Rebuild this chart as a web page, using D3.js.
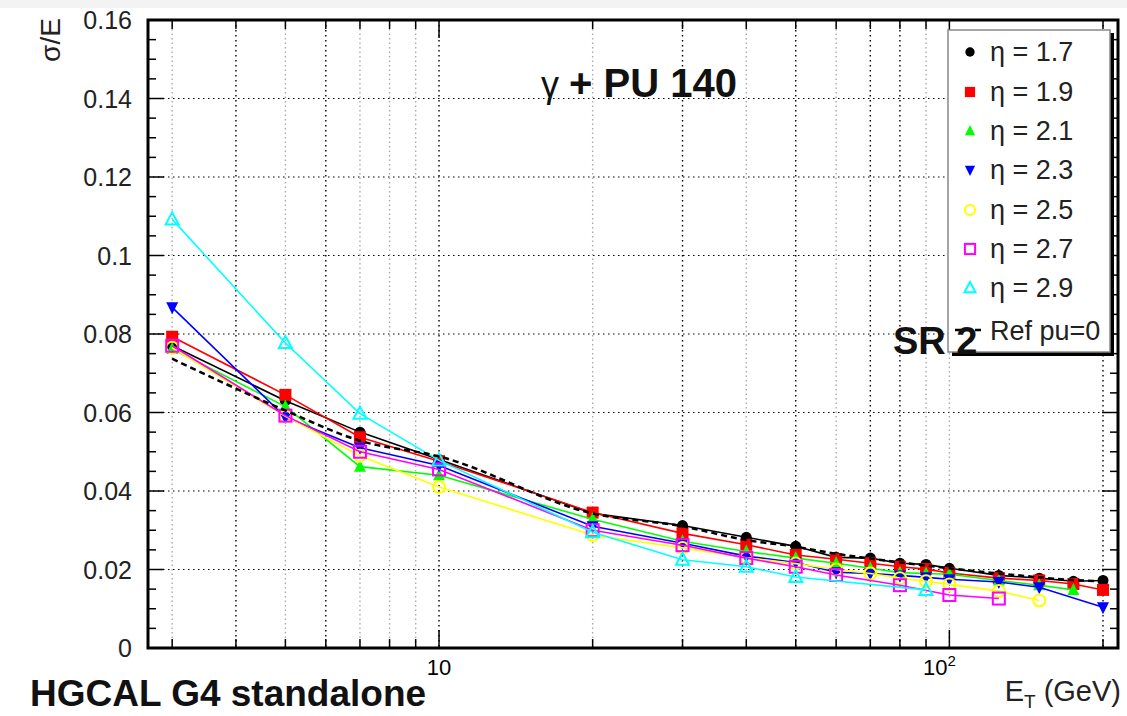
<!DOCTYPE html>
<html><head><meta charset="utf-8">
<script src="https://cdn.jsdelivr.net/npm/d3@7"></script>
<style>body{margin:0;background:#fff}svg{display:block}text{font-family:"Liberation Sans",Arial,sans-serif}</style>
</head><body>
<svg id="c" width="1127" height="716"></svg>
<script>
// ---- data ----
const xVals = [3,5,7,10,20,30,40,50,60,70,80,90,100,125,150,175,200];
const eta17 = [0.0770,0.0630,0.0550,0.0480,0.0343,0.0312,0.0282,0.0259,0.0231,0.0229,0.0216,0.0213,0.0203,0.0185,0.0178,0.0170,0.0172];
const eta19 = [0.0793,0.0645,0.0537,0.0476,0.0345,0.0292,0.0263,0.0237,0.0226,0.0216,0.0207,0.0201,0.0191,0.0178,0.0172,0.0163,0.0148];
const eta21 = [0.0762,0.0615,0.0462,0.0440,0.0328,0.0272,0.0246,0.0229,0.0216,0.0203,0.0192,0.0190,0.0188,0.0172,0.0160,0.0148,null];
const eta23 = [0.0868,0.0588,0.0510,0.0465,0.0310,0.0267,0.0234,0.0218,0.0193,0.0190,0.0185,0.0180,0.0175,0.0168,0.0155,null,0.0104];
const eta25 = [0.0765,0.0590,0.0490,0.0410,0.0288,0.0255,0.0230,0.0215,0.0200,0.0190,0.0178,0.0170,0.0162,0.0145,0.0121,null,null];
const eta27 = [0.0770,0.0592,0.0500,0.0455,0.0300,0.0262,0.0229,0.0207,0.0186,null,0.0160,null,0.0135,0.0126,null,null,null];
const eta29 = [0.1092,0.0777,0.0597,0.0478,0.0295,0.0225,0.0207,0.0181,null,null,null,0.0148,null,null,null,null,null];
const refPu0 = [0.0737,0.0605,0.0528,0.0488,0.0343,0.0310,0.0275,0.0258,0.0240,0.0228,0.0218,0.0210,0.0203,0.0190,0.0180,0.0173,0.0170];
const seriesNames = ["η = 1.7","η = 1.9","η = 2.1","η = 2.3","η = 2.5","η = 2.7","η = 2.9"];
const seriesVals = [eta17,eta19,eta21,eta23,eta25,eta27,eta29];
const seriesColors = ["#000000","#ff0000","#00ff00","#0000ff","#ffff00","#ff00ff","#00ffff"];
const seriesMarkers = ["circleF","squareF","triUpF","triDownF","circleO","squareO","triUpO"];
const refName = "Ref pu=0";
const yTicks = [0,0.02,0.04,0.06,0.08,0.1,0.12,0.14,0.16];
const yTickLabels = ["0","0.02","0.04","0.06","0.08","0.1","0.12","0.14","0.16"];
const xGridDark = [4,6,10,30,50,70,80,200];
const xGridLight = [3,5,7,8,9,20,40,60,90,100];
const xMinorTicks = [3,4,5,6,7,8,9,20,30,40,50,60,70,80,90,200];
const xMajorTicks = [10,100];

// ---- layout ----
const svg = d3.select("#c");
const L=148, R=1118, T=20, B=648;
const x = d3.scaleLog().domain([2.69,214]).range([L,R]);
const y = d3.scaleLinear().domain([0,0.16]).range([B,T]);

svg.append("rect").attr("x",0).attr("y",0).attr("width",1127).attr("height",8).attr("fill","#f3f3f3");

// grid
const g = svg.append("g");
g.selectAll(".hg").data(yTicks.slice(1,-1)).join("line")
  .attr("x1",L).attr("x2",R).attr("y1",d=>y(d)).attr("y2",d=>y(d))
  .attr("stroke","#000").attr("stroke-width",1.2).attr("stroke-dasharray","1.5,3.5");
g.selectAll(".vgl").data(xGridLight).join("line")
  .attr("x1",d=>x(d)).attr("x2",d=>x(d)).attr("y1",T).attr("y2",B)
  .attr("stroke","#aaa").attr("stroke-width",1.4).attr("stroke-dasharray","1.5,3");
g.selectAll(".vgd").data(xGridDark).join("line")
  .attr("x1",d=>x(d)).attr("x2",d=>x(d)).attr("y1",T).attr("y2",B)
  .attr("stroke","#000").attr("stroke-width",1.4).attr("stroke-dasharray","1.5,3.5");

// axes ticks (inside)
const yMinor = d3.range(0,0.1601,0.005);
const tk = svg.append("g").attr("stroke","#000").attr("stroke-width",1.5);
yMinor.forEach(v=>{
  const major = Math.abs(v/0.02 - Math.round(v/0.02))<1e-6;
  const len = major?16:8;
  tk.append("line").attr("x1",L).attr("x2",L+len).attr("y1",y(v)).attr("y2",y(v));
  tk.append("line").attr("x1",R).attr("x2",R-len).attr("y1",y(v)).attr("y2",y(v));
});
xMinorTicks.forEach(v=>{
  tk.append("line").attr("x1",x(v)).attr("x2",x(v)).attr("y1",B).attr("y2",B-9);
  tk.append("line").attr("x1",x(v)).attr("x2",x(v)).attr("y1",T).attr("y2",T+9);
});
xMajorTicks.forEach(v=>{
  tk.append("line").attr("x1",x(v)).attr("x2",x(v)).attr("y1",B).attr("y2",B-18);
  tk.append("line").attr("x1",x(v)).attr("x2",x(v)).attr("y1",T).attr("y2",T+18);
});

// y labels
svg.selectAll(".yl").data(yTicks).join("text")
  .attr("x",132).attr("y",d=>y(d)+9).attr("text-anchor","end")
  .attr("font-size",25).attr("fill","#222").text((d,i)=>yTickLabels[i]);
// x labels
svg.append("text").attr("x",x(10)).attr("y",675).attr("text-anchor","middle").attr("font-size",22).text("10");
const t100 = svg.append("text").attr("x",x(100)-10).attr("y",675).attr("text-anchor","middle").attr("font-size",22);
t100.append("tspan").text("10");
t100.append("tspan").attr("dy",-9).attr("font-size",15).text("2");

// markers
function marker(sel, type, color, cx, cy, s){
  const k = s||1;
  if(type==="circleF") sel.append("circle").attr("cx",cx).attr("cy",cy).attr("r",5.5*k).attr("fill",color);
  else if(type==="squareF") sel.append("rect").attr("x",cx-6*k).attr("y",cy-6*k).attr("width",12*k).attr("height",12*k).attr("fill",color);
  else if(type==="triUpF") sel.append("path").attr("d",`M${cx},${cy-7*k}L${cx+6*k},${cy+5*k}L${cx-6*k},${cy+5*k}Z`).attr("fill",color);
  else if(type==="triDownF") sel.append("path").attr("d",`M${cx},${cy+7*k}L${cx+6*k},${cy-5*k}L${cx-6*k},${cy-5*k}Z`).attr("fill",color);
  else if(type==="circleO") sel.append("circle").attr("cx",cx).attr("cy",cy).attr("r",6*k).attr("fill","none").attr("stroke",color).attr("stroke-width",2);
  else if(type==="squareO") sel.append("rect").attr("x",cx-6*k).attr("y",cy-6*k).attr("width",12*k).attr("height",12*k).attr("fill","none").attr("stroke",color).attr("stroke-width",2);
  else if(type==="triUpO") sel.append("path").attr("d",`M${cx},${cy-7*k}L${cx+6.5*k},${cy+5*k}L${cx-6.5*k},${cy+5*k}Z`).attr("fill","none").attr("stroke",color).attr("stroke-width",2);
}

const line = d3.line().x(d=>x(d[0])).y(d=>y(d[1]));
const plot = svg.append("g");
seriesVals.forEach((vals,i)=>{
  const pts = xVals.map((xv,j)=>[xv,vals[j]]).filter(d=>d[1]!=null);
  plot.append("path").attr("d",line(pts)).attr("fill","none")
    .attr("stroke",seriesColors[i]).attr("stroke-width",1.6);
  pts.forEach(p=>marker(plot, seriesMarkers[i], seriesColors[i], x(p[0]), y(p[1])));
});
const refPts = xVals.map((xv,j)=>[xv,refPu0[j]]);
plot.append("path").attr("d",d3.line().curve(d3.curveMonotoneX).x(d=>x(d[0])).y(d=>y(d[1]))(refPts))
  .attr("fill","none").attr("stroke","#000").attr("stroke-width",2.5).attr("stroke-dasharray","6,4");

// frame
svg.append("rect").attr("x",L).attr("y",T).attr("width",R-L).attr("height",B-T)
  .attr("fill","none").attr("stroke","#000").attr("stroke-width",3);

// legend
const lg = svg.append("g");
lg.append("rect").attr("x",952).attr("y",33).attr("width",162).attr("height",323).attr("fill","#000");
lg.append("rect").attr("x",948).attr("y",30).attr("width",162).attr("height",322).attr("fill","#fff").attr("stroke","#888").attr("stroke-width",1.5);
const rowY = [52,92,131,170,210,249,288];
seriesNames.forEach((n,i)=>{
  marker(lg, seriesMarkers[i], seriesColors[i], 970, rowY[i], 0.85);
  lg.append("text").attr("x",990).attr("y",rowY[i]+9).attr("font-size",27).attr("fill","#222").text(n);
});
lg.append("line").attr("x1",955).attr("x2",985).attr("y1",330).attr("y2",330).attr("stroke","#000").attr("stroke-width",2.5).attr("stroke-dasharray","6,4");
lg.append("text").attr("x",990).attr("y",340).attr("font-size",27).attr("fill","#222").text(refName);

// annotations
const tt = svg.append("text").attr("x",541).attr("y",97).attr("font-size",40).attr("fill","#111");
tt.append("tspan").attr("font-size",36).text("γ ");
tt.append("tspan").attr("font-weight","bold").text("+ PU 140");
svg.append("text").attr("x",893).attr("y",354).attr("font-size",38).attr("font-weight","bold").attr("fill","#111").text("SR 2");
svg.append("text").attr("x",30).attr("y",706).attr("font-size",37).attr("font-weight","bold").attr("fill","#111").text("HGCAL G4 standalone");
const et = svg.append("text").attr("x",1121).attr("y",701).attr("text-anchor","end").attr("font-size",29).attr("fill","#222");
et.append("tspan").text("E");
et.append("tspan").attr("dy",7).attr("font-size",19).text("T");
et.append("tspan").attr("dy",-7).text(" (GeV)");
svg.append("text").attr("transform","translate(60,40) rotate(-90)").attr("text-anchor","middle").attr("font-size",28).attr("fill","#222").text("σ/E");
</script>
</body></html>
